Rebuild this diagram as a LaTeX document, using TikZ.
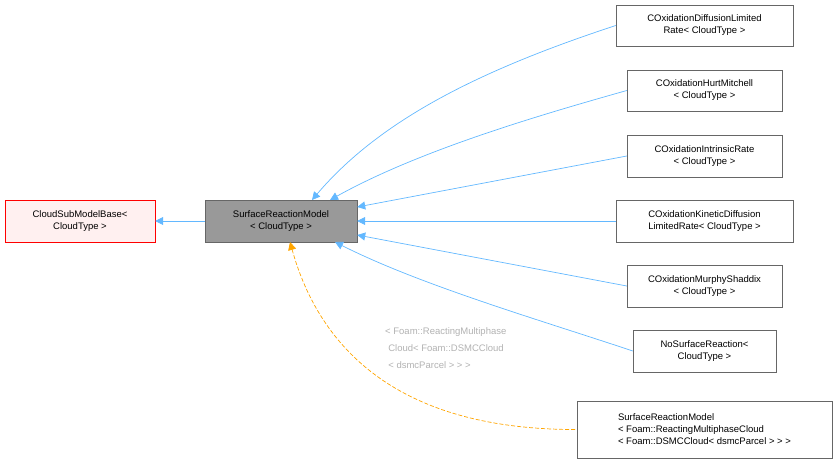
\documentclass[tikz,border=0pt]{standalone}
\usepackage{fontspec}
\setmainfont{Liberation Sans}
\usetikzlibrary{arrows.meta, positioning}
\tikzset{
    classnode/.style = {draw=black!60, fill=white, rectangle, inner sep=0pt, align=center,
      font=\fontsize{9.5}{12}\selectfont},
    inherit/.style = {line width=0.7pt, color={rgb,255:red,99;green,184;blue,255}, {Triangle[length=8pt,width=8pt]}-},
    templ/.style = {line width=0.7pt, color={rgb,255:red,255;green,165;blue,0}, dash pattern=on 4pt off 2pt, {Triangle[length=8pt,width=8pt]}-}
}
\definecolor{basered}{RGB}{255, 240, 240}

\begin{document}
\begin{tikzpicture}[x=1pt, y=-1pt]
    \useasboundingbox (0,0) rectangle (838,463);
    % base classes
    \node[classnode, draw=red, fill=basered, minimum width=150pt, minimum height=42pt, name=Base] at (80,221) {CloudSubModelBase\textless\\CloudType \textgreater};
    \node[classnode, fill=black!40, minimum width=152pt, minimum height=42pt, name=SRM] at (281,221) {SurfaceReactionModel\\\textless{} CloudType \textgreater};
    \draw[inherit] (Base) -- (SRM);

    % derived classes
    \node[classnode, minimum width=177pt, minimum height=41pt, name=DiffLim] at (704.5,25.5) {COxidationDiffusionLimited\\Rate\textless{} CloudType \textgreater};
    \node[classnode, minimum width=155pt, minimum height=41pt, name=Hurt] at (704.5,90.5) {COxidationHurtMitchell\\\textless{} CloudType \textgreater};
    \node[classnode, minimum width=155pt, minimum height=42pt, name=Intr] at (704.5,156) {COxidationIntrinsicRate\\\textless{} CloudType \textgreater};
    \node[classnode, minimum width=177pt, minimum height=42pt, name=Kin] at (704.5,221) {COxidationKineticDiffusion\\LimitedRate\textless{} CloudType \textgreater};
    \node[classnode, minimum width=155pt, minimum height=42pt, name=Murphy] at (704.5,286) {COxidationMurphyShaddix\\\textless{} CloudType \textgreater};
    \node[classnode, minimum width=143pt, minimum height=42pt, name=NoSR] at (704.5,351) {NoSurfaceReaction\textless\\CloudType \textgreater};
    \node[classnode, minimum width=255pt, minimum height=57pt, name=Templ, align=left] at (704.5,429.5) {SurfaceReactionModel\\\textless{} Foam::ReactingMultiphaseCloud\\\textless{} Foam::DSMCCloud\textless{} dsmcParcel \textgreater{} \textgreater{} \textgreater};

    \draw[inherit] (312,200) .. controls (380,120) and (480,70) .. (DiffLim.west);
    \draw[inherit] (330,200) .. controls (420,150) and (540,115) .. (Hurt.west);
    \draw[inherit] (SRM.east |- 0,207) -- (Intr.west);
    \draw[inherit] (SRM.east) -- (Kin.west);
    \draw[inherit] (SRM.east |- 0,235) -- (Murphy.west);
    \draw[inherit] (335,242) .. controls (420,285) and (540,320) .. (NoSR.west);
    \draw[templ] (290,242) .. controls (320,350) and (400,430) .. (Templ.west);
    \node[text=black!30, font=\fontsize{9.5}{17}\selectfont, align=left, anchor=north west, inner sep=0pt, name=TemplLabel] at (385,327) {\textless{} Foam::ReactingMultiphase\\ \,\,Cloud\textless{} Foam::DSMCCloud\\ \,\,\textless{} dsmcParcel \textgreater{} \textgreater{} \textgreater};
\end{tikzpicture}
\end{document}
